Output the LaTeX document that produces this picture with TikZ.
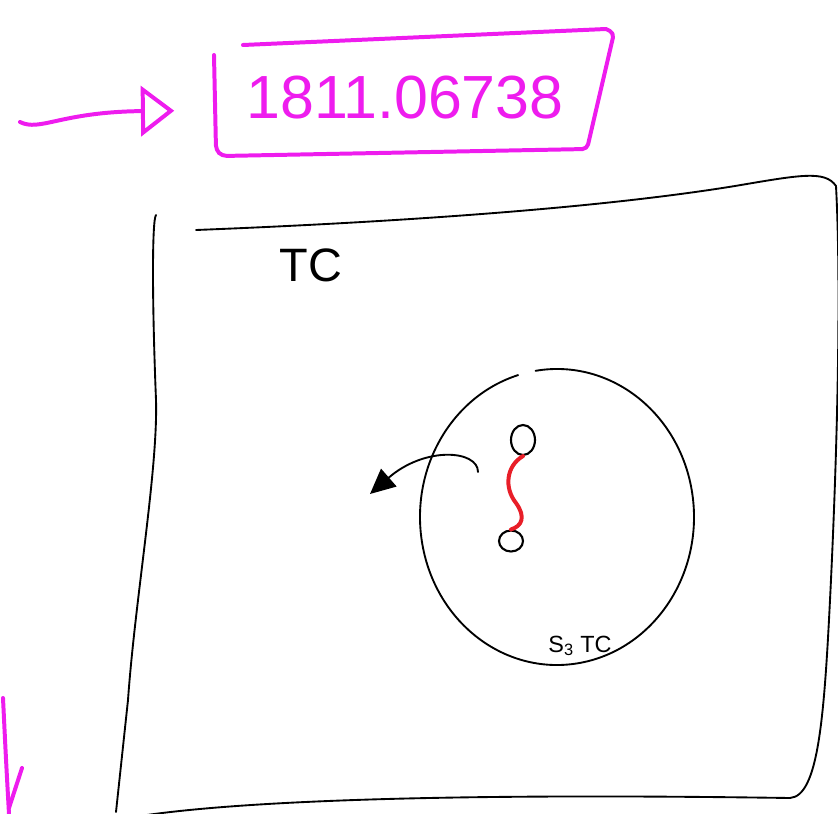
\documentclass[tikz,border=0pt]{standalone}
\usepackage{fontspec}
\setmainfont{Liberation Sans}
\usepackage{xcolor}
\usetikzlibrary{arrows.meta,positioning,calc,shapes.geometric}
\definecolor{marker}{RGB}{238,28,238}
\definecolor{inkred}{RGB}{232,30,40}

\begin{document}
\begin{tikzpicture}[x=0.03cm, y=-0.03cm,
    pen/.style={draw=black, line width=1.6pt, line cap=round, line join=round},
    pinkpen/.style={draw=marker, line width=3.4pt, line cap=round, line join=round},
    redpen/.style={draw=inkred, line width=3.4pt, line cap=round},
    dot/.style={ellipse, draw=black, line width=1.8pt, inner sep=0pt, minimum width=#1},
    hand/.style={font=\fontsize{#1}{#1}\selectfont}]

    \useasboundingbox (0,0) rectangle (838,814);
    \clip (0,0) rectangle (838,814);

    % arXiv number
    \node[hand=52pt, text=marker] (num) at (405,98) {1811.06738};
    \draw[pinkpen] (243,45) -- (606,29) [rounded corners=4pt] -- (614,33)
        -- (587,149) -- (222,156) -- (216,150) -- (214,55);
    \coordinate (start) at (20,122);
    \coordinate (aim) at (num.west |- 0,110);
    \draw[pinkpen, -{Triangle[open, length=10mm, width=15mm, line width=3.4pt]}, shorten >=58pt]
        (start) .. controls (40,132) and (60,112) .. (aim);

    % outer frame
    \draw[pen] (156,215) .. controls (152,220) and (152,300) .. (156,400)
        .. controls (158,470) and (135,600) .. (128,700) -- (116,812);
    \draw[pen] (196,230) .. controls (400,222) and (600,208) .. (735,186)
        .. controls (800,175) and (825,170) .. (836,186)
        .. controls (842,300) and (836,480) .. (830,600)
        .. controls (824,720) and (818,796) .. (790,798)
        .. controls (650,796) and (300,792) .. (140,816);
    \node[hand=40pt] (tc) at (311,265) {TC};

    % sphere
    \coordinate (centre) at (557,517);
    \draw[pen] ($(centre)+(-99:137 and 148)$) arc[start angle=-99, end angle=253.5,
        x radius=137, y radius=148];
    \node[hand=20pt] (stc) at (580,646) {S\textsubscript{3} TC};

    % pair of points
    \node[dot=24*0.03cm, minimum height=30*0.03cm] (upper) at (523,440) {};
    \node[dot=24*0.03cm, minimum height=21*0.03cm] (lower) at (511,541) {};
    \draw[redpen] (upper.south) .. controls (506,466) and (504,488) .. (516,503)
        .. controls (526,517) and (522,526) .. (lower.north);

    % arrow out of the sphere
    \coordinate (tail) at (478,472);
    \coordinate (tip) at (370,494);
    \draw[pen, -{Triangle[length=7.5mm, width=7mm]}]
        (tail) .. controls (478,450) and (425,446) .. (tip);

    % stray arrow
    \draw[pinkpen] (3,698) .. controls (6,760) .. (9,814);
    \draw[pinkpen] (9,808) -- (22,768);
\end{tikzpicture}
\end{document}
